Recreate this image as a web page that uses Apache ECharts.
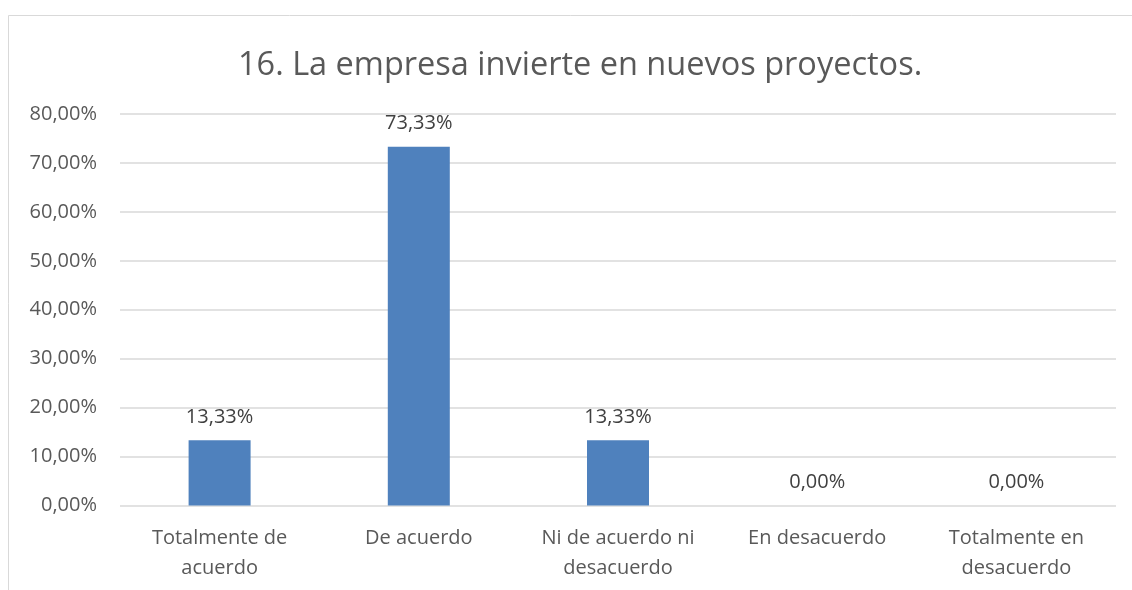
<!DOCTYPE html>
<html>
<head>
<meta charset="utf-8">
<script src="https://cdn.jsdelivr.net/npm/echarts@6/dist/echarts.min.js"></script>
<style>
  html, body { margin: 0; padding: 0; background: #fff; }
  #chart { width: 1132px; height: 590px; }
</style>
</head>
<body>
<div id="chart"></div>
<script>
// datos del grafico
var titulo = '16. La empresa invierte en nuevos proyectos.';
var categorias = ['Totalmente de\nacuerdo', 'De acuerdo', 'Ni de acuerdo ni\ndesacuerdo', 'En desacuerdo', 'Totalmente en\ndesacuerdo'];
var valores = [13.33, 73.33, 13.33, 0, 0];
var ejeMax = 80;
var ejePaso = 10;

function pct(v) {
    return v.toFixed(2).replace('.', ',') + '%';
}

var myChart = echarts.init(document.getElementById('chart'));
var fuente = '"Open Sans", sans-serif';

var option = {
    animation: false,
    backgroundColor: '#fff',
    title: {
        text: titulo,
        left: 233,
        top: 44,
        textStyle: { fontFamily: fuente, fontSize: 32.5, fontWeight: 'normal', color: '#595959' }
    },
    graphic: [{
        type: 'rect',
        shape: { x: 8.5, y: 15.5, width: 1200, height: 700 },
        style: { fill: 'none', stroke: '#d9d9d9', lineWidth: 1 },
        silent: true
    }],
    grid: { left: 120, right: 16, top: 114, bottom: 84.5 },
    xAxis: {
        type: 'category',
        data: categorias,
        axisLine: { show: false },
        axisTick: { show: false },
        axisLabel: {
            fontFamily: fuente, fontSize: 20, color: '#595959',
            lineHeight: 30, margin: 18, interval: 0
        }
    },
    yAxis: {
        type: 'value',
        min: 0,
        max: ejeMax,
        interval: ejePaso,
        axisLine: { show: false },
        axisTick: { show: false },
        splitLine: { lineStyle: { color: '#d9d9d9', width: 1.5 } },
        axisLabel: {
            fontFamily: fuente, fontSize: 20, color: '#595959', margin: 23,
            formatter: function (v) { return pct(v); }
        }
    },
    series: [{
        type: 'bar',
        data: valores,
        barWidth: 62,
        itemStyle: { color: '#4f81bd' },
        label: {
            show: true,
            position: 'top',
            distance: 13,
            fontFamily: fuente, fontSize: 20, color: '#404040',
            formatter: function (p) { return pct(p.value); }
        }
    }]
};
myChart.setOption(option);
</script>
</body>
</html>
